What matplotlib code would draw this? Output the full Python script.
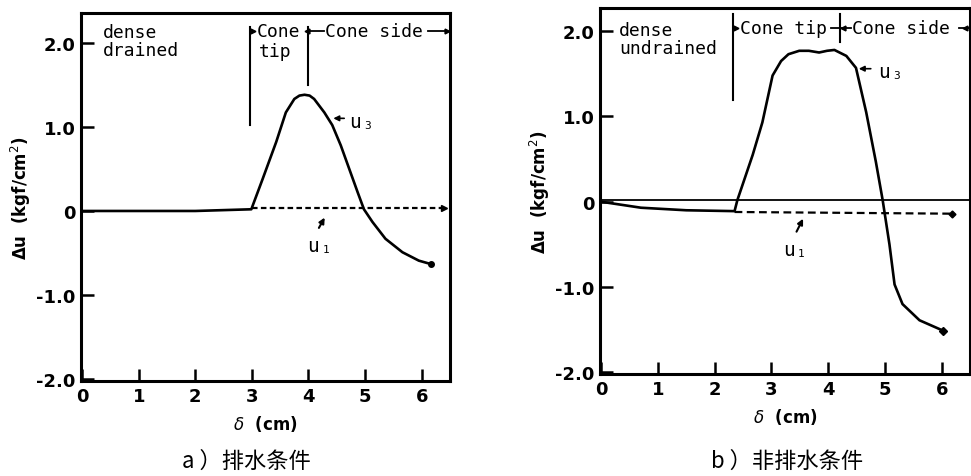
import numpy as np
import matplotlib
matplotlib.use("Agg")
import matplotlib.pyplot as plt

plt.rcParams['font.family'] = ['DejaVu Sans', 'Noto Sans CJK SC']

# a) drained
a_u3_x = [0.0, 1.0, 2.0, 2.99, 3.19, 3.43, 3.60, 3.75, 3.84, 3.93, 4.02, 4.10, 4.28, 4.42, 4.57,
          4.72, 4.87, 4.98, 5.13, 5.36, 5.66, 5.95, 6.16]
a_u3_y = [0.0, 0.0, 0.0, 0.02, 0.38, 0.82, 1.17, 1.33, 1.37, 1.38, 1.37, 1.33, 1.17, 1.02, 0.78,
          0.50, 0.22, 0.02, -0.13, -0.33, -0.49, -0.59, -0.63]
a_u1_x = [3.0, 6.39]
a_u1_y = [0.03, 0.03]

# b) undrained
b_u3_x = [0.0, 0.7, 1.5, 2.35, 2.40, 2.67, 2.84, 3.02, 3.17, 3.30, 3.49, 3.66, 3.84, 3.98, 4.11,
          4.32, 4.49, 4.67, 4.84, 4.96, 5.08, 5.17, 5.31, 5.61, 6.02]
b_u3_y = [0.0, -0.07, -0.10, -0.11, 0.02, 0.55, 0.93, 1.48, 1.65, 1.73, 1.77, 1.77, 1.75, 1.77, 1.78,
          1.71, 1.57, 1.05, 0.47, 0.02, -0.50, -0.97, -1.20, -1.39, -1.51]
b_u1_x = [2.35, 6.19]
b_u1_y = [-0.12, -0.14]

xticks = [0, 1, 2, 3, 4, 5, 6]
yticks = [-2.0, -1.0, 0.0, 1.0, 2.0]
a_ylabels = ['-2.0', '-1.0', '0', '1.0', '2.0']
b_ylabels = ['-2.0', '-1.0', '0', '1.0', '2.0']

mono = 'DejaVu Sans Mono'
fs = 13
lw = 1.9

fig = plt.figure(figsize=(9.71, 4.77), dpi=100)
ax1 = fig.add_axes([0.0834, 0.199, 0.380, 0.7715])
ax2 = fig.add_axes([0.618, 0.2138, 0.381, 0.767])


def style(ax, ylim):
    ax.set_xlim(-0.02, 6.5)
    ax.set_ylim(*ylim)
    for s in ax.spines.values():
        s.set_linewidth(2.2)
    ax.set_xticks(xticks)
    ax.set_yticks(yticks)
    ax.tick_params(direction='in', length=9, width=1.8, labelsize=13, pad=4)
    for t in ax.get_xticklabels() + ax.get_yticklabels():
        t.set_fontweight('bold')
    ax.set_xlabel(r'$\delta$  (cm)', fontsize=12, fontweight='bold', labelpad=6)
    ax.set_ylabel('Δu  (kgf/cm$^2$)', fontsize=12, fontweight='bold', labelpad=2)


def ulabel(ax, x, y, sub):
    ax.text(x, y, 'u', family=mono, fontsize=14, va='center')
    ax.text(x + 0.27, y - 0.04, sub, family=mono, fontsize=8, va='center')


# ---- panel a
style(ax1, (-2.02, 2.35))
ax1.set_yticklabels(a_ylabels)
ax1.plot(a_u3_x, a_u3_y, color='black', lw=lw, solid_joinstyle='round')
ax1.plot(a_u3_x[-1], a_u3_y[-1], 'o', color='black', ms=4)
ax1.plot(a_u1_x, a_u1_y, color='black', lw=1.6, ls=(0, (2.5, 1.5)))
ax1.plot(a_u1_x[-1], a_u1_y[-1], '>', color='black', ms=4)
ax1.text(0.37, 2.02, 'dense\ndrained', family=mono, fontsize=fs, va='center', linespacing=1.0)
ax1.plot([2.97, 2.97], [1.02, 2.18], color='black', lw=1.5)
ax1.plot([4.0, 4.0], [1.49, 2.18], color='black', lw=1.5)
ax1.plot(3.02, 2.14, '>', color='black', ms=3.5)
ax1.plot(3.98, 2.14, '<', color='black', ms=3.5)
ax1.plot([4.0, 4.28], [2.14, 2.14], color='black', lw=1.3)
ax1.plot([6.12, 6.42], [2.14, 2.14], color='black', lw=1.3)
ax1.plot(6.45, 2.14, '>', color='black', ms=3.5)
ax1.text(3.08, 2.14, 'Cone', family=mono, fontsize=fs, va='center')
ax1.text(3.12, 1.9, 'tip', family=mono, fontsize=fs, va='center')
ax1.text(4.3, 2.14, 'Cone side', family=mono, fontsize=fs, va='center')
ax1.annotate('', xy=(4.39, 1.10), xytext=(4.68, 1.10),
             arrowprops=dict(arrowstyle='-|>', color='black', lw=1.2, mutation_scale=8))
ulabel(ax1, 4.72, 1.06, '3')
ax1.annotate('', xy=(4.31, -0.05), xytext=(4.16, -0.23),
             arrowprops=dict(arrowstyle='-|>', color='black', lw=1.5, mutation_scale=8))
ulabel(ax1, 3.98, -0.41, '1')
fig.text(0.254, 0.033, 'a ）排水条件', fontsize=16, ha='center', va='center',
         family=['Noto Sans CJK SC', 'DejaVu Sans'])

# ---- panel b
style(ax2, (-2.02, 2.27))
ax2.set_yticklabels(b_ylabels)
ax2.axhline(0.02, color='black', lw=1.3)
ax2.plot(b_u3_x, b_u3_y, color='black', lw=lw, solid_joinstyle='round')
ax2.plot(b_u3_x[-1], b_u3_y[-1], 'D', color='black', ms=4)
ax2.plot(b_u1_x, b_u1_y, color='black', lw=1.6, ls=(0, (3.5, 2)))
ax2.plot(b_u1_x[-1], b_u1_y[-1], 'D', color='black', ms=3.5)
ax2.text(0.32, 1.91, 'dense\nundrained', family=mono, fontsize=fs, va='center', linespacing=1.0)
ax2.plot([2.33, 2.33], [1.19, 2.2], color='black', lw=1.5)
ax2.plot([4.2, 4.2], [1.87, 2.2], color='black', lw=1.5)
ax2.plot(2.37, 2.04, '>', color='black', ms=3.5)
ax2.plot([4.05, 4.4], [2.04, 2.04], color='black', lw=1.3)
ax2.plot(4.27, 2.04, '<', color='black', ms=3.5)
ax2.plot([6.3, 6.5], [2.04, 2.04], color='black', lw=1.3)
ax2.plot(6.42, 2.04, '<', color='black', ms=3.5)
ax2.text(2.45, 2.04, 'Cone tip', family=mono, fontsize=fs, va='center')
ax2.text(4.42, 2.04, 'Cone side', family=mono, fontsize=fs, va='center')
ax2.annotate('', xy=(4.49, 1.56), xytext=(4.8, 1.56),
             arrowprops=dict(arrowstyle='-|>', color='black', lw=1.2, mutation_scale=8))
ulabel(ax2, 4.88, 1.53, '3')
ax2.annotate('', xy=(3.58, -0.17), xytext=(3.42, -0.38),
             arrowprops=dict(arrowstyle='-|>', color='black', lw=1.5, mutation_scale=8))
ulabel(ax2, 3.2, -0.56, '1')
fig.text(0.811, 0.033, 'b ）非排水条件', fontsize=16, ha='center', va='center',
         family=['Noto Sans CJK SC', 'DejaVu Sans'])

fig.savefig('out.png', dpi=100)
